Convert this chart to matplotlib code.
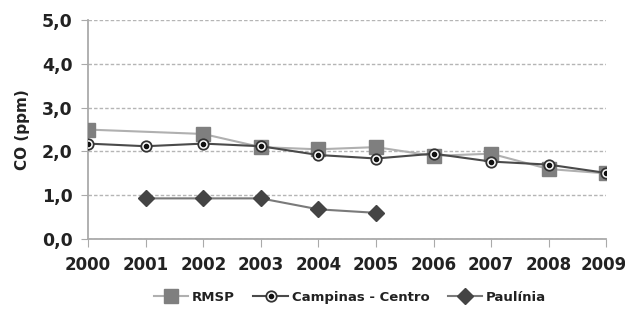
import matplotlib
matplotlib.use('Agg')
import matplotlib.pyplot as plt
import matplotlib.transforms as mtransforms
from matplotlib.ticker import FuncFormatter

# dados de CO (ppm)
anos = [2000, 2001, 2002, 2003, 2004, 2005, 2006, 2007, 2008, 2009]
rmsp_anos = [2000, 2002, 2003, 2004, 2005, 2006, 2007, 2008, 2009]
rmsp = [2.5, 2.4, 2.1, 2.05, 2.1, 1.9, 1.95, 1.6, 1.5]
campinas = [2.18, 2.12, 2.18, 2.12, 1.92, 1.84, 1.95, 1.77, 1.7, 1.51]
paulinia_anos = [2001, 2002, 2003, 2004, 2005]
paulinia = [0.93, 0.93, 0.93, 0.68, 0.6]

plt.rcParams['font.family'] = ['DejaVu Sans']
plt.rcParams['font.weight'] = 'bold'

fig = plt.figure(figsize=(6.25, 3.13), dpi=100)
ax = fig.add_axes([0.141, 0.236, 0.829, 0.70])

l1, = ax.plot(rmsp_anos, rmsp, color='#b0b0b0', lw=1.5, marker='s', ms=10,
              mfc='#7f7f7f', mec='#7f7f7f', zorder=3)
l2, = ax.plot(anos, campinas, color='#4a4a4a', lw=1.5, marker='o', ms=7.5,
              mfc='white', mec='#333333', mew=1.3, zorder=4)
d2, = ax.plot(anos, campinas, ls='none', marker='o', ms=3, color='#111111', zorder=5)
l3, = ax.plot(paulinia_anos, paulinia, color='#7a7a7a', lw=1.5, marker='D', ms=8,
              mfc='#444444', mec='#444444', zorder=3)

ax.set_xlim(2000, 2009)
ax.set_ylim(0, 5)
ax.set_yticks([0, 1, 2, 3, 4, 5])
ax.set_xticks(anos)
ax.yaxis.set_major_formatter(FuncFormatter(lambda v, p: ('%.1f' % v).replace('.', ',')))
ax.grid(axis='y', ls=(0, (2.5, 1.5)), color='#b5b5b5', lw=1)
ax.set_axisbelow(True)

for s in ['top', 'right']:
    ax.spines[s].set_visible(False)
ax.spines['left'].set_color('#aaaaaa')
ax.spines['bottom'].set_color('#aaaaaa')
ax.spines['left'].set_linewidth(1.3)
ax.spines['bottom'].set_linewidth(1.3)
ax.tick_params(axis='x', length=6, color='#aaaaaa', pad=6, labelsize=12, labelcolor='#222222')
ax.tick_params(axis='y', length=5, color='#aaaaaa', pad=6, labelsize=12.5, labelcolor='#222222')
ax.set_ylabel('CO (ppm)', fontsize=11, fontweight='bold', labelpad=9, color='#222222')

# puxa o ultimo rotulo um pouco pra esquerda pra nao cortar
fig.canvas.draw()
ultimo = ax.get_xticklabels()[-1]
ultimo.set_transform(ultimo.get_transform() +
                     mtransforms.ScaledTranslation(-3 / 100, 0, fig.dpi_scale_trans))

fig.legend([l1, (l2, d2), l3], ['RMSP', 'Campinas - Centro', 'Paulínia'],
           loc='center', bbox_to_anchor=(0.56, 0.05), ncol=3, frameon=False,
           fontsize=9.5, handlelength=2.6, columnspacing=1.4, handletextpad=0.3,
           labelcolor='#222222')

fig.savefig('out.png', dpi=100)
